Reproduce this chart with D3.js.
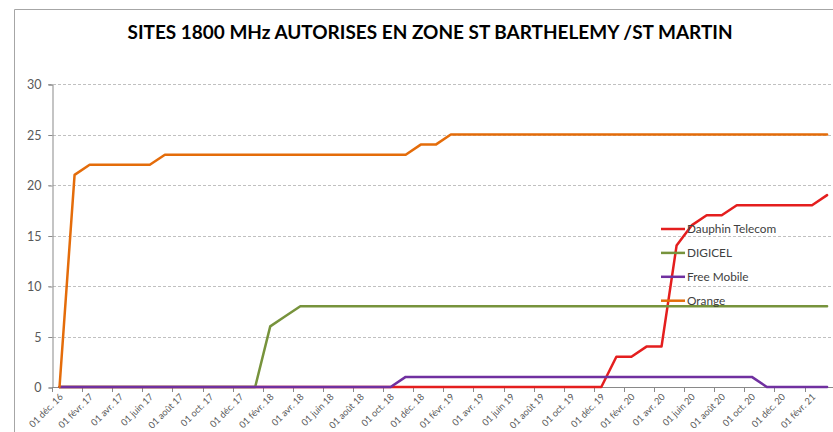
<!DOCTYPE html>
<html><head><meta charset="utf-8">
<script src="https://cdn.jsdelivr.net/npm/d3@7"></script>
<style>body{margin:0;background:#fff}svg{display:block}</style>
</head><body>
<svg id="c" width="833" height="432"></svg>
<script>
const title = "SITES 1800 MHz AUTORISES EN ZONE ST BARTHELEMY /ST MARTIN";
const categories = ["01 déc. 16","01 janv. 17","01 févr. 17","01 mars 17","01 avr. 17","01 mai 17","01 juin 17","01 juil. 17","01 août 17","01 sept. 17","01 oct. 17","01 nov. 17","01 déc. 17","01 janv. 18","01 févr. 18","01 mars 18","01 avr. 18","01 mai 18","01 juin 18","01 juil. 18","01 août 18","01 sept. 18","01 oct. 18","01 nov. 18","01 déc. 18","01 janv. 19","01 févr. 19","01 mars 19","01 avr. 19","01 mai 19","01 juin 19","01 juil. 19","01 août 19","01 sept. 19","01 oct. 19","01 nov. 19","01 déc. 19","01 janv. 20","01 févr. 20","01 mars 20","01 avr. 20","01 mai 20","01 juin 20","01 juil. 20","01 août 20","01 sept. 20","01 oct. 20","01 nov. 20","01 déc. 20","01 janv. 21","01 févr. 21","01 mars 21"];
const seriesNames = ["Dauphin Telecom","DIGICEL","Free Mobile","Orange"];
const dauphin = [0,0,0,0,0,0,0,0,0,0,0,0,0,0,0,0,0,0,0,0,0,0,0,0,0,0,0,0,0,0,0,0,0,0,0,0,0,3,3,4,4,14,16,17,17,18,18,18,18,18,18,19];
const digicel = [0,0,0,0,0,0,0,0,0,0,0,0,0,0,6,7,8,8,8,8,8,8,8,8,8,8,8,8,8,8,8,8,8,8,8,8,8,8,8,8,8,8,8,8,8,8,8,8,8,8,8,8];
const free = [0,0,0,0,0,0,0,0,0,0,0,0,0,0,0,0,0,0,0,0,0,0,0,1,1,1,1,1,1,1,1,1,1,1,1,1,1,1,1,1,1,1,1,1,1,1,1,0,0,0,0,0];
const orange = [0,21,22,22,22,22,22,23,23,23,23,23,23,23,23,23,23,23,23,23,23,23,23,23,24,24,25,25,25,25,25,25,25,25,25,25,25,25,25,25,25,25,25,25,25,25,25,25,25,25,25,25];
const yTicks = [0,5,10,15,20,25,30];
const colors = ["#E41E1E","#77933C","#7030A0","#E46C0A"];

const svg = d3.select("#c");
const font = "Lato, 'Open Sans', sans-serif";
const axisCol = "#595959";

// chart border
svg.append("path").attr("d","M14.5,432 V9.5 H833").attr("fill","none").attr("stroke","#A6A6A6").attr("stroke-width",1);

svg.append("text").attr("x",430).attr("y",38.5).attr("text-anchor","middle")
  .attr("font-family",font).attr("font-weight","bold").attr("font-size",18.5)
  .attr("textLength",605).attr("lengthAdjust","spacingAndGlyphs")
  .attr("fill","#000").text(title);

const x = d3.scaleBand().domain(categories).range([52, 834.6]).padding(0);
const y = d3.scaleLinear().domain([0,30]).range([387,84]);
const cx = d => x(d) + x.bandwidth()/2;

// gridlines
svg.append("g").selectAll("line").data(yTicks.filter(t=>t>0)).join("line")
  .attr("x1",48).attr("x2",833).attr("y1",d=>Math.round(y(d))+0.5).attr("y2",d=>Math.round(y(d))+0.5)
  .attr("stroke","#C0C0C0").attr("stroke-width",1).attr("stroke-dasharray","3,2");

// y axis
const ya = svg.append("g").attr("transform","translate(52.5,0.5)")
  .call(d3.axisLeft(y).tickValues(yTicks).tickSize(4).tickPadding(7).tickFormat(d3.format("d")));
ya.select(".domain").attr("stroke","#898989");
ya.selectAll(".tick line").attr("stroke","#898989");
ya.selectAll("text").attr("font-family",font).attr("font-size",12.5).attr("fill",axisCol);

// x axis
const xa = svg.append("g").attr("transform","translate(0,387.5)");
xa.append("line").attr("x1",52).attr("x2",833).attr("y1",0).attr("y2",0).attr("stroke","#898989");
const tickCats = categories.filter((c,i)=>i%2===0);
xa.selectAll("line.tk").data(tickCats).join("line").attr("class","tk")
  .attr("x1",d=>Math.round(x(d))+0.5).attr("x2",d=>Math.round(x(d))+0.5).attr("y1",0).attr("y2",4.5)
  .attr("stroke","#898989");
xa.selectAll("text").data(tickCats).join("text")
  .attr("transform",d=>`translate(${cx(d)+4},${10}) rotate(-45)`)
  .attr("text-anchor","end").attr("font-family",font).attr("font-size",9.3).attr("fill",axisCol)
  .text(d=>d);

// lines
const allSeries = [dauphin,digicel,free,orange];
const line = d3.line().x((d,i)=>cx(categories[i])).y(d=>y(d));
svg.append("g").selectAll("path").data(allSeries).join("path")
  .attr("d",line).attr("fill","none").attr("stroke",(d,i)=>colors[i])
  .attr("stroke-width",2.5).attr("stroke-linejoin","round").attr("stroke-linecap","round");

// legend
const lg = svg.append("g").attr("transform","translate(661,229)");
seriesNames.forEach((n,i)=>{
  const g = lg.append("g").attr("transform",`translate(0,${i*23.9})`);
  g.append("line").attr("x1",0).attr("x2",24).attr("y1",0).attr("y2",0).attr("stroke",colors[i]).attr("stroke-width",2.5);
  g.append("text").attr("x",26).attr("y",0).attr("dy","0.35em").attr("font-family",font).attr("font-size",11.8).attr("fill","#404040").text(n);
});
</script>
</body></html>
